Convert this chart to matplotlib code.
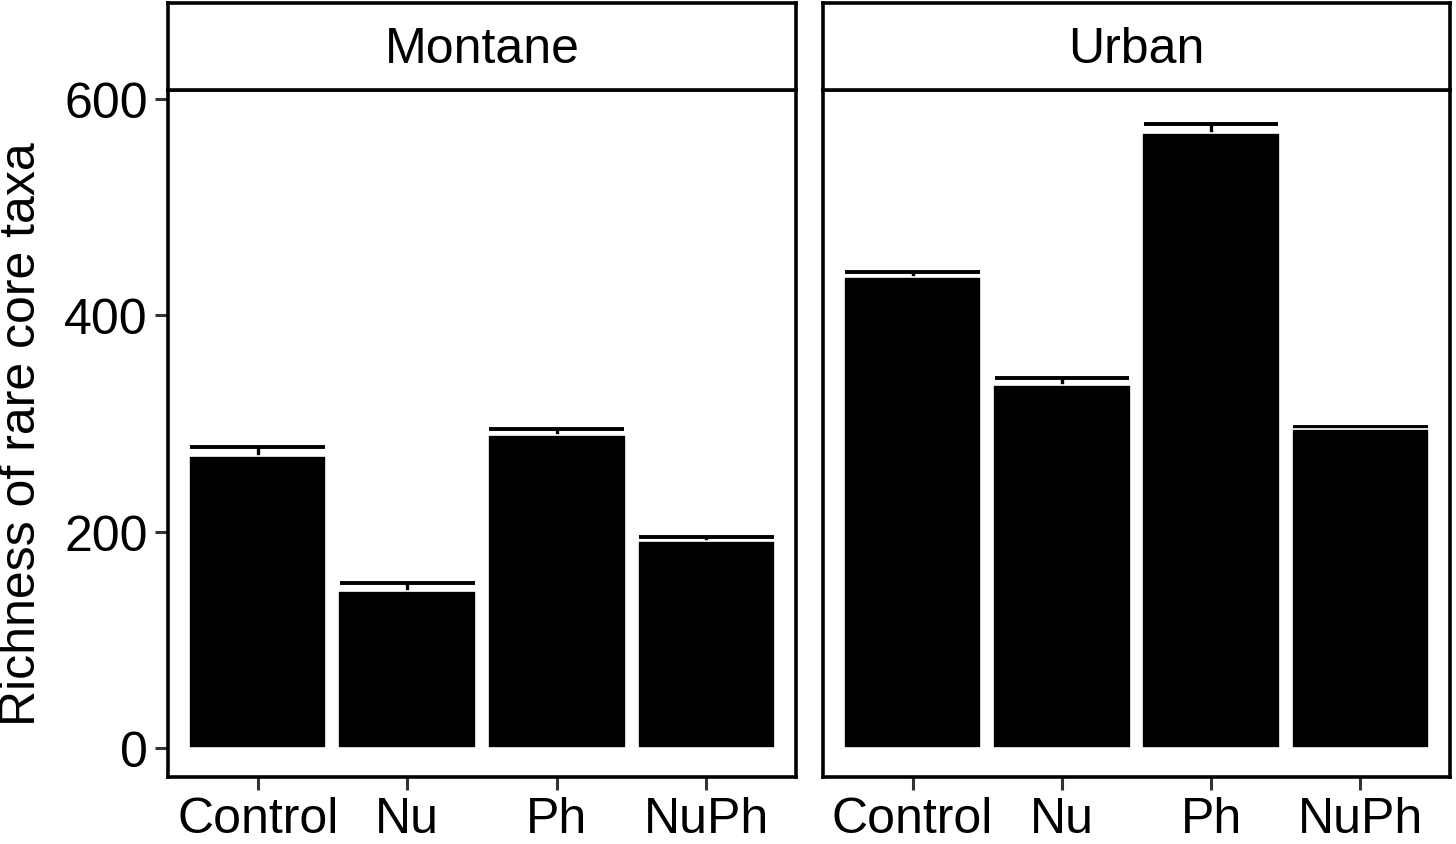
import matplotlib

matplotlib.use("Agg")
import matplotlib.pyplot as plt
import numpy as np

plt.rcParams["font.family"] = ["Liberation Sans", "DejaVu Sans"]

treatments = ["Control", "Nu", "Ph", "NuPh"]
sites = ["Montane", "Urban"]
montane_mean = [270, 145, 289, 191]
montane_se = [8, 8, 6, 4]
urban_mean = [435, 336, 569, 295]
urban_se = [5, 6, 8, 2]
y_ticks = [0, 200, 400, 600]

TICK_GREY = "#333333"
FS = 36

fig = plt.figure(figsize=(14.56, 8.45), dpi=100)
W, H = 1456, 845


def px_box(x0, y0, x1, y1):
    # pixel box (top-left origin) -> figure fraction rect
    return [x0 / W, 1 - y1 / H, (x1 - x0) / W, (y1 - y0) / H]


panels = [(168, 796), (823, 1450)]
data = [(montane_mean, montane_se), (urban_mean, urban_se)]
x = np.arange(1, len(treatments) + 1)

for i, ((px0, px1), site, (mean, se)) in enumerate(zip(panels, sites, data)):
    ax = fig.add_axes(px_box(px0, 91, px1, 778))
    ax.errorbar(x, mean, yerr=se, fmt="none", ecolor="black",
                elinewidth=2.4, capsize=0, zorder=1)
    ax.hlines(np.array(mean) + np.array(se), x - 0.45, x + 0.45,
              color="black", linewidth=2.8, zorder=1)
    ax.bar(x, mean, width=0.92, color="black", edgecolor="white",
           linewidth=1.2, zorder=2)

    ax.set_xlim(0.4, 4.6)
    ax.set_ylim(-26.8, 608.3)
    ax.set_xticks(x)
    ax.set_xticklabels(treatments)
    ax.set_yticks(y_ticks)
    if i == 0:
        ax.set_yticklabels([str(v) for v in y_ticks])
        ax.set_ylabel("Richness of rare core taxa", fontsize=FS, labelpad=14)
    else:
        ax.tick_params(axis="y", left=False, labelleft=False)
    ax.tick_params(axis="both", labelsize=FS, length=9.5, width=2.2,
                   color=TICK_GREY, labelcolor="black")
    ax.tick_params(axis="x", pad=4.5)
    ax.tick_params(axis="y", pad=5)
    for sp in ax.spines.values():
        sp.set_linewidth(2.6)
        sp.set_color("black")

    # facet strip
    sax = fig.add_axes(px_box(px0, 4, px1, 91))
    sax.set_xticks([])
    sax.set_yticks([])
    for sp in sax.spines.values():
        sp.set_linewidth(2.6)
        sp.set_color("black")
    sax.text(0.5, 0.47, site, ha="center", va="center", fontsize=FS,
             transform=sax.transAxes)

fig.savefig("out.png", dpi=100, facecolor="white")
